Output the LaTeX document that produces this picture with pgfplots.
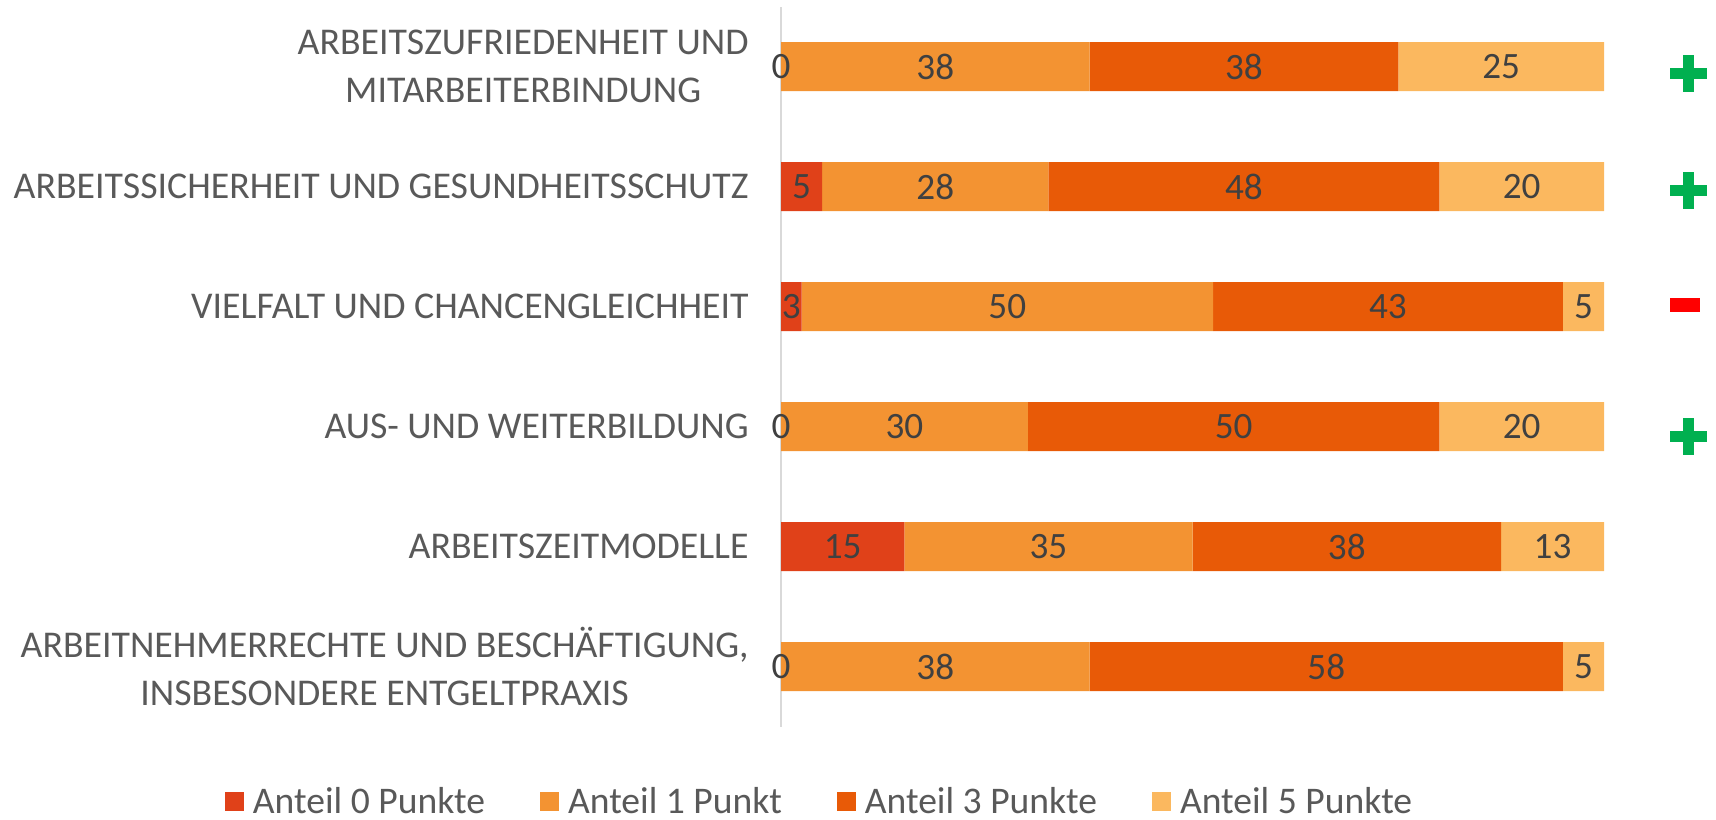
\documentclass[border=0pt]{standalone}
\usepackage{pgfplots}
\usepackage{pgfplotstable}
\pgfplotsset{compat=1.18}
\usepackage{fontspec}
\setmainfont{Carlito}
\definecolor{cA}{HTML}{E04119}
\definecolor{cB}{HTML}{F39332}
\definecolor{cC}{HTML}{E85A07}
\definecolor{cD}{HTML}{FBB85F}
\definecolor{txt}{HTML}{595959}
\definecolor{lab}{HTML}{404040}
\definecolor{axgray}{HTML}{D9D9D9}
\definecolor{plusgreen}{HTML}{00B050}
\definecolor{minusred}{HTML}{FF0000}

\pgfplotstableread{
y a b c d
0 0 37.5 57.5 5
1 15 35 37.5 12.5
2 0 30 50 20
3 2.5 50 42.5 5
4 5 27.5 47.5 20
5 0 37.5 37.5 25
}\data

\pgfplotstableread{
x y lab
0 5 0
18.75 5 38
56.25 5 38
87.5 5 25
2.5 4 5
18.75 4 28
56.25 4 48
90 4 20
1.25 3 3
27.5 3 50
73.75 3 43
97.5 3 5
0 2 0
15 2 30
55 2 50
90 2 20
7.5 1 15
32.5 1 35
68.75 1 38
93.75 1 13
0 0 0
18.75 0 38
66.25 0 58
97.5 0 5
}\labels

\pgfplotsset{
  common/.style={
    at={(390.5pt,46.25pt)}, anchor=south west,
    scale only axis, width=411.5pt, height=360pt,
    xmin=0, xmax=100, ymin=-0.5, ymax=5.5,
    clip=false,
  }
}

\begin{document}
\begin{tikzpicture}
\path[use as bounding box] (0,0) rectangle (858pt,409.5pt);
\begin{axis}[
  common,
  xbar stacked, bar width=24.5pt,
  axis x line=none,
  axis y line*=left,
  y axis line style={draw=axgray, line width=1pt},
  ytick={0,1,2,3,4,5},
  yticklabels={{ARBEITNEHMERRECHTE UND BESCHÄFTIGUNG,\\INSBESONDERE ENTGELTPRAXIS},
    ARBEITSZEITMODELLE, AUS- UND WEITERBILDUNG, VIELFALT UND CHANCENGLEICHHEIT,
    ARBEITSSICHERHEIT UND GESUNDHEITSSCHUTZ,
    {ARBEITSZUFRIEDENHEIT UND\\MITARBEITERBINDUNG}},
  major tick length=0pt,
  ytick style={draw=none},
  yticklabel style={align=center, anchor=east, inner sep=0pt, xshift=-16pt,
    font=\fontsize{18.9}{24}\selectfont, text=txt},
  legend columns=4,
  legend style={draw=none, inner sep=0pt, outer sep=0pt,
    at={(axis description cs:-0.6756,-0.1045)}, anchor=west,
    font=\fontsize{18.8}{22}\selectfont, text=txt,
    nodes={inner sep=0pt},
    /tikz/every odd column/.append style={column sep=4.5pt},
    /tikz/every even column/.append style={column sep=27.5pt}},
  legend image code/.code={\fill[#1] (0pt,-4.75pt) rectangle (9.5pt,4.75pt);},
]
\addplot[fill=cA, draw=none] table[x=a, y=y] {\data};
\addplot[fill=cB, draw=none] table[x=b, y=y] {\data};
\addplot[fill=cC, draw=none] table[x=c, y=y] {\data};
\addplot[fill=cD, draw=none] table[x=d, y=y] {\data};
\legend{Anteil 0 Punkte, Anteil 1 Punkt, Anteil 3 Punkte, Anteil 5 Punkte}
% plus / minus markers
\node[fill=plusgreen, minimum width=18.5pt, minimum height=5.5pt, inner sep=0pt] at (axis cs:110.3,4.94) {};
\node[fill=plusgreen, minimum width=5.5pt, minimum height=18.5pt, inner sep=0pt] at (axis cs:110.3,4.94) {};
\node[fill=plusgreen, minimum width=18.5pt, minimum height=5.5pt, inner sep=0pt] at (axis cs:110.3,3.967) {};
\node[fill=plusgreen, minimum width=5.5pt, minimum height=18.5pt, inner sep=0pt] at (axis cs:110.3,3.967) {};
\node[fill=minusred, minimum width=15pt, minimum height=7pt, inner sep=0pt] at (axis cs:109.8,3.0125) {};
\node[fill=plusgreen, minimum width=18.5pt, minimum height=5.5pt, inner sep=0pt] at (axis cs:110.3,1.917) {};
\node[fill=plusgreen, minimum width=5.5pt, minimum height=18.5pt, inner sep=0pt] at (axis cs:110.3,1.917) {};
\end{axis}
\begin{axis}[common, hide axis]
\addplot[draw=none, mark=none,
  nodes near coords, point meta=explicit symbolic,
  every node near coord/.style={anchor=center, inner sep=0pt, text=lab,
    font=\fontsize{18.6}{22}\selectfont}]
  table[x=x, y=y, meta=lab] {\labels};
\end{axis}
\end{tikzpicture}
\end{document}
